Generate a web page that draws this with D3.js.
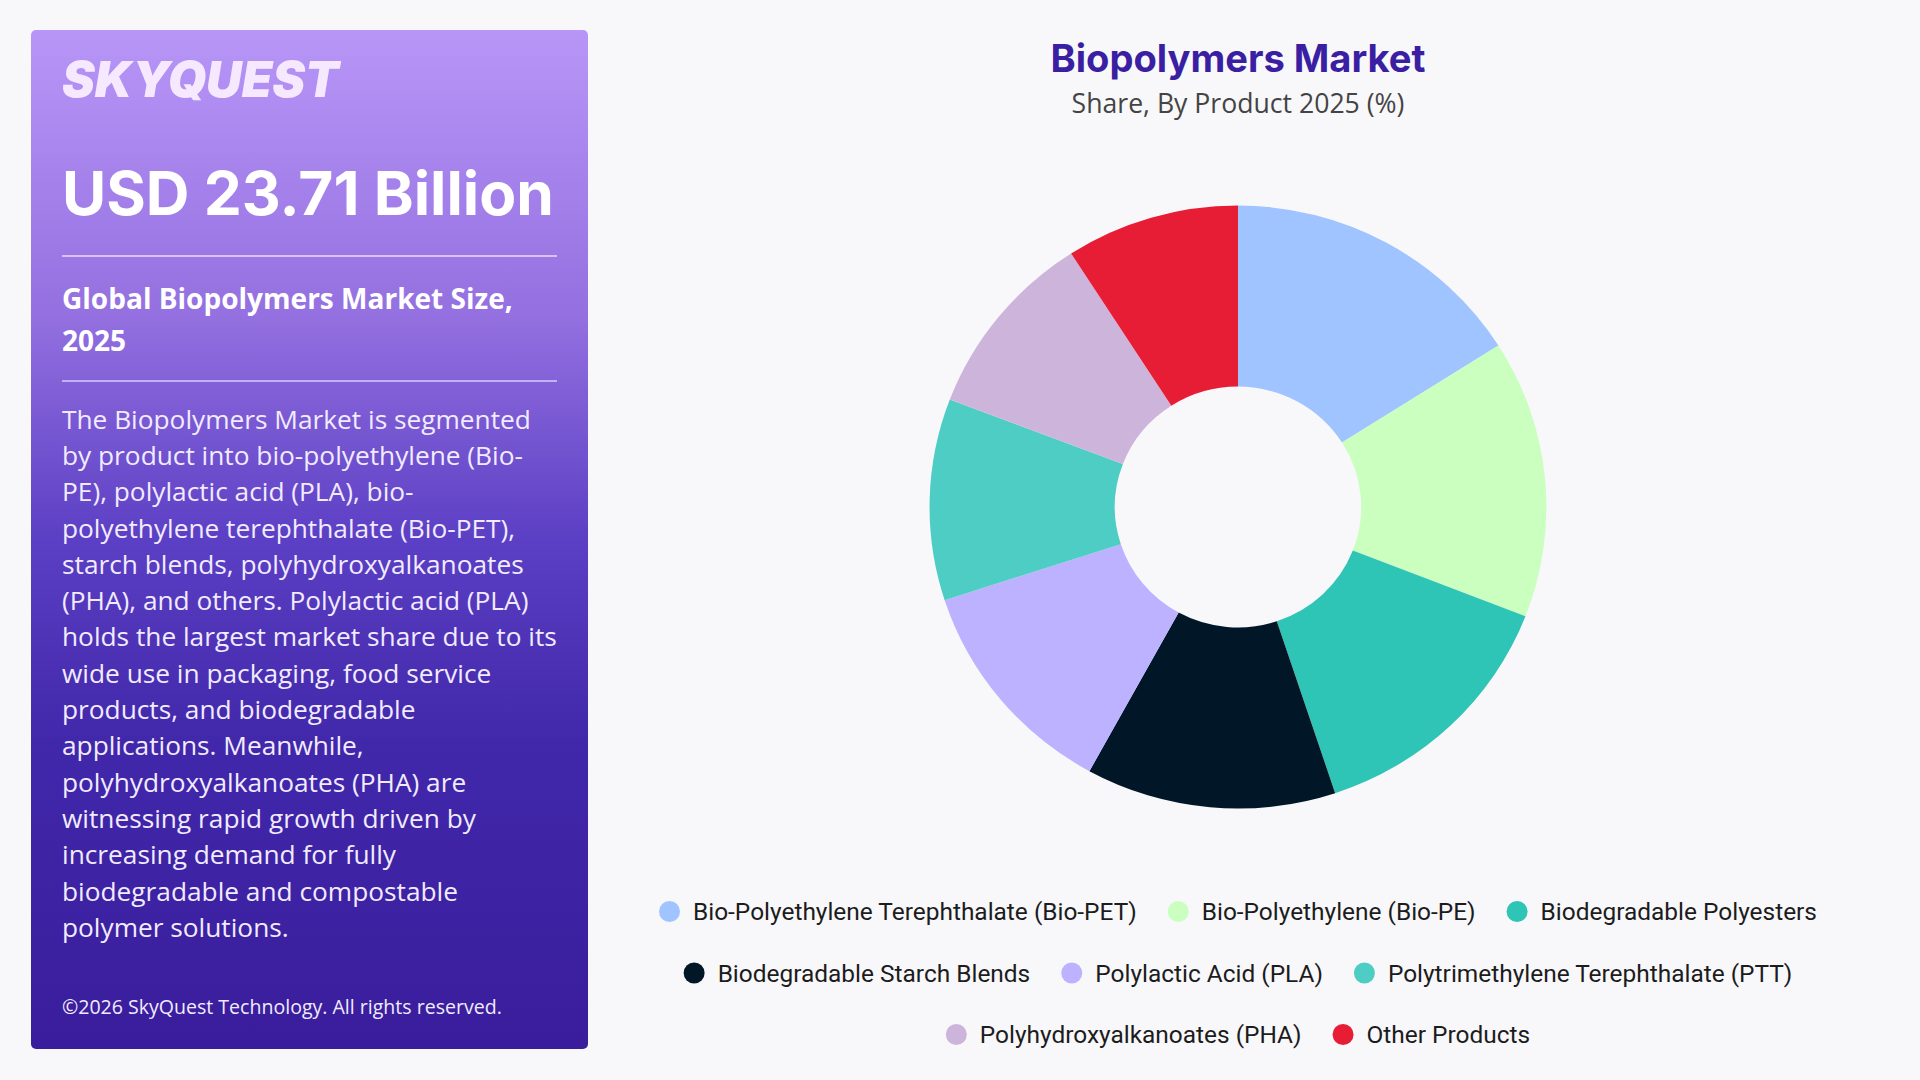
<!DOCTYPE html>
<html lang="en">
<head>
  <meta charset="UTF-8">
  <title>Biopolymers Market</title>
  <script src="https://d3js.org/d3.v7.min.js"></script>
  <style>
    body { margin: 0; background: #f8f8fb; }
    svg { display: block; }
    text { font-family: "Open Sans", Inter, sans-serif; }
  </style>
</head>
<body>
<svg width="1920" height="1080"></svg>
<script>
// data
const categories = [
  "Bio-Polyethylene Terephthalate (Bio-PET)",
  "Bio-Polyethylene (Bio-PE)",
  "Biodegradable Polyesters",
  "Biodegradable Starch Blends",
  "Polylactic Acid (PLA)",
  "Polytrimethylene Terephthalate (PTT)",
  "Polyhydroxyalkanoates (PHA)",
  "Other Products"
];
const shares = [16.0, 14.9, 14.0, 13.1, 12.0, 10.8, 10.1, 9.1];
const colors = ["#a0c4ff", "#caffbf", "#2ec4b6", "#011627", "#bdb2ff", "#4ecdc4", "#cdb4db", "#e71d36"];
const legendRows = [[0, 1, 2], [3, 4, 5], [6, 7]];

const paragraph = [
  "The Biopolymers Market is segmented",
  "by product into bio-polyethylene (Bio-",
  "PE), polylactic acid (PLA), bio-",
  "polyethylene terephthalate (Bio-PET),",
  "starch blends, polyhydroxyalkanoates",
  "(PHA), and others. Polylactic acid (PLA)",
  "holds the largest market share due to its",
  "wide use in packaging, food service",
  "products, and biodegradable",
  "applications. Meanwhile,",
  "polyhydroxyalkanoates (PHA) are",
  "witnessing rapid growth driven by",
  "increasing demand for fully",
  "biodegradable and compostable",
  "polymer solutions."
];

const svg = d3.select("svg");

// set font size so that a text node gets the wanted width
function fitWidth(sel, target) {
  const base = 100;
  sel.style("font-size", base + "px");
  const w = d3.max(sel.nodes(), n => n.getComputedTextLength());
  sel.style("font-size", (base * target / w) + "px");
}

// ---- left panel ----
const defs = svg.append("defs");
const grad = defs.append("linearGradient")
  .attr("id", "panelGrad").attr("x1", 0).attr("y1", 0).attr("x2", 0).attr("y2", 1);
[[0, "#b896f7"], [0.28, "#9470e0"], [0.5, "#5b3fc4"], [0.7, "#4127aa"], [1, "#391d9c"]]
  .forEach(([o, c]) => grad.append("stop").attr("offset", o).attr("stop-color", c));

svg.append("rect")
  .attr("x", 31).attr("y", 30).attr("width", 557).attr("height", 1019)
  .attr("rx", 5).attr("fill", "url(#panelGrad)");

const px = 62;

const logo = svg.append("text")
  .attr("x", px).attr("y", 97)
  .attr("fill", "#f6e9ff")
  .style("font-family", "Inter, 'DejaVu Sans', sans-serif")
  .style("font-weight", 900).style("font-style", "italic")
  .text("SKYQUEST");
fitWidth(logo, 277);

const big = svg.append("text")
  .attr("x", px).attr("y", 215)
  .attr("fill", "#ffffff")
  .style("font-family", "Inter, sans-serif")
  .style("font-weight", 700)
  .text("USD 23.71 Billion");
fitWidth(big, 492);

svg.append("line").attr("x1", px).attr("x2", 557).attr("y1", 256).attr("y2", 256)
  .attr("stroke", "#e9ddff").attr("stroke-width", 1.5);

const sub = svg.append("g").selectAll("text")
  .data(["Global Biopolymers Market Size,", "2025"])
  .join("text")
  .attr("x", px).attr("y", (d, i) => 309 + i * 42)
  .attr("fill", "#ffffff")
  .style("font-weight", 700)
  .text(d => d);
fitWidth(sub, 451);

svg.append("line").attr("x1", px).attr("x2", 557).attr("y1", 381).attr("y2", 381)
  .attr("stroke", "#d9ccff").attr("stroke-width", 1.5);

const para = svg.append("g").selectAll("text")
  .data(paragraph)
  .join("text")
  .attr("x", px).attr("y", (d, i) => 428.6 + i * 36.3)
  .attr("fill", "#f1ebff")
  .style("font-weight", 400)
  .text(d => d);
fitWidth(para, 495);

const copy = svg.append("text")
  .attr("x", px).attr("y", 1014)
  .attr("fill", "#f1ebff")
  .style("font-weight", 500)
  .text("\u00a92026 SkyQuest Technology. All rights reserved.");
fitWidth(copy, 440);

// ---- chart ----
const cx = 1238, cy = 507;

const title = svg.append("text")
  .attr("x", cx).attr("y", 71.7).attr("text-anchor", "middle")
  .attr("fill", "#3a1fa3")
  .style("font-family", "Inter, sans-serif")
  .style("font-weight", 700)
  .text("Biopolymers Market");
fitWidth(title, 375);

const subtitle = svg.append("text")
  .attr("x", cx).attr("y", 112.7).attr("text-anchor", "middle")
  .attr("fill", "#444444")
  .style("font-weight", 400)
  .text("Share, By Product 2025 (%)");
fitWidth(subtitle, 333);

const outerR = 303, innerR = 121;
const pie = d3.pie().sort(null).value(d => d)(shares);
const arc = d3.arc().innerRadius(innerR).outerRadius(outerR);

// the reference donut is a touch wider than tall
svg.append("g")
  .attr("transform", `translate(${cx},${cy}) scale(1.018,0.995)`)
  .selectAll("path")
  .data(pie)
  .join("path")
  .attr("d", arc)
  .attr("fill", (d, i) => colors[i]);

// ---- legend ----
const legendY = [911.5, 973, 1034.5];
const markerR = 10.5, textGap = 13, itemGap = 31;

const legend = svg.append("g");
// measure label widths first
const probe = legend.append("text")
  .style("font-family", "Roboto, sans-serif")
  .text(categories[0]);
fitWidth(probe, 444);
const legendFont = probe.style("font-size");
probe.remove();

legendRows.forEach((row, r) => {
  const items = row.map(i => {
    const g = legend.append("g");
    g.append("circle").attr("r", markerR).attr("fill", colors[i]);
    const t = g.append("text")
      .attr("x", markerR + textGap).attr("dy", "0.35em")
      .attr("fill", "#1c1c1c")
      .style("font-family", "Roboto, sans-serif")
      .style("font-size", legendFont)
      .text(categories[i]);
    return { g, w: 2 * markerR + textGap + t.node().getComputedTextLength() };
  });
  const total = d3.sum(items, d => d.w) + itemGap * (items.length - 1);
  let x = cx - total / 2;
  items.forEach(it => {
    it.g.attr("transform", `translate(${x + markerR},${legendY[r]})`);
    x += it.w + itemGap;
  });
});
</script>
</body>
</html>
